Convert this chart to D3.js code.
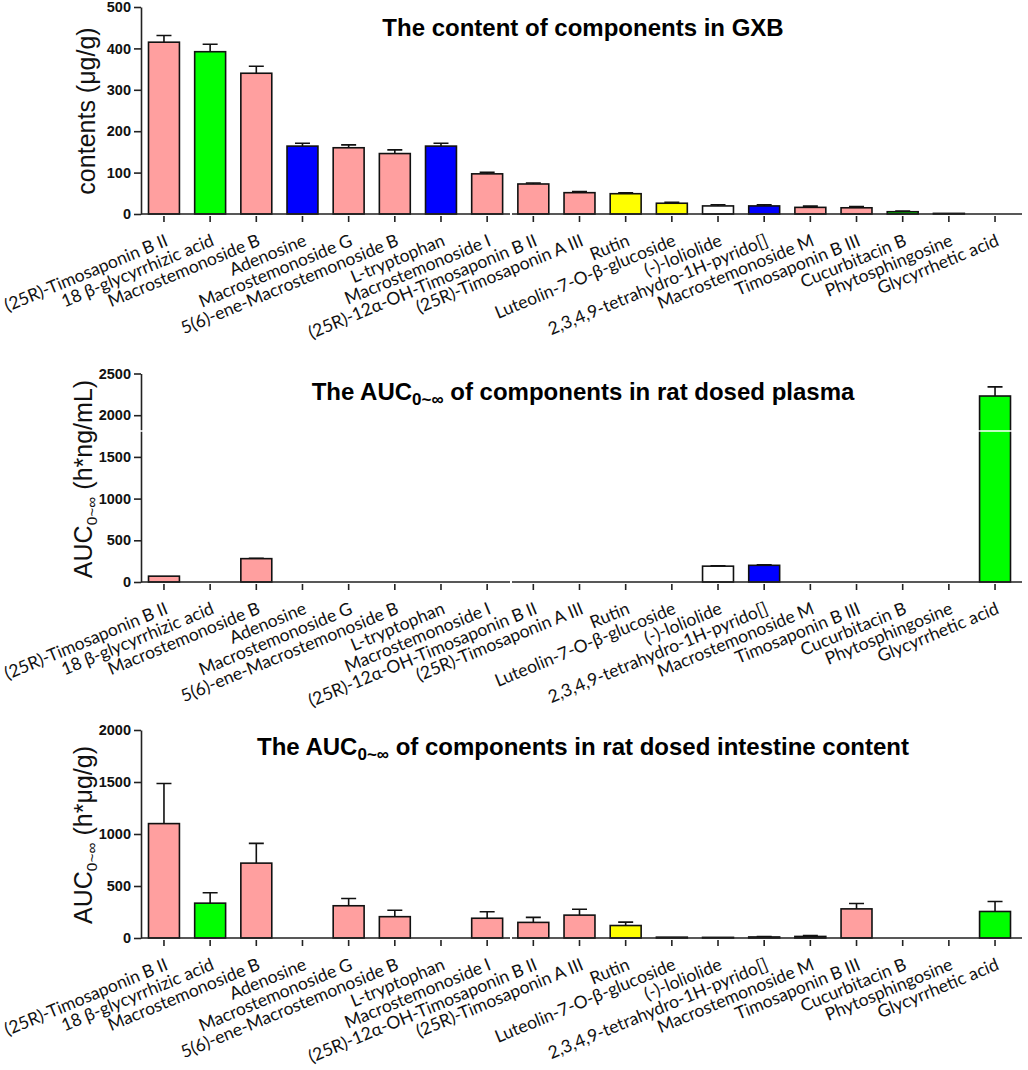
<!DOCTYPE html>
<html>
<head>
<meta charset="utf-8">
<script src="https://cdn.jsdelivr.net/npm/d3@7"></script>
<style>
  html, body { margin: 0; padding: 0; background: #fff; }
  svg { display: block; }
</style>
</head>
<body>
<svg id="chart" width="1028" height="1070"></svg>
<script>
// ---------------- DATA ----------------
const categories = [
  "(25R)-Timosaponin B II",
  "18 β-glycyrrhizic acid",
  "Macrostemonoside B",
  "Adenosine",
  "Macrostemonoside G",
  "5(6)-ene-Macrostemonoside B",
  "L-tryptophan",
  "Macrostemonoside I",
  "(25R)-12α-OH-Timosaponin B II",
  "(25R)-Timosaponin A III",
  "Rutin",
  "Luteolin-7-O-β-glucoside",
  "(-)-loliolide",
  "2,3,4,9-tetrahydro-1H-pyrido[]",
  "Macrostemonoside M",
  "Timosaponin B III",
  "Cucurbitacin B",
  "Phytosphingosine",
  "Glycyrrhetic acid"
];

// GXB content (µg/g)
const contentMean = [415, 392, 340, 164, 160, 146, 164, 97, 72.5, 51.5, 49, 26, 19.5, 19.5, 16, 15, 5.5, 1.5, 0];
const contentErr  = [16, 18, 17, 7, 7, 9, 7, 4, 2.5, 2.5, 2, 2, 3, 2.5, 3, 3, 1.5, 0, 0];

// AUC plasma (h*ng/mL)
const plasmaMean = [70, 0, 280, 0, 0, 0, 0, 0, 0, 0, 0, 0, 190, 200, 0, 0, 0, 0, 2230];
const plasmaErr  = [0, 0, 5, 0, 0, 0, 0, 0, 0, 0, 0, 0, 5, 5, 0, 0, 0, 0, 110];

// AUC intestine content (h*µg/g)
const intestineMean = [1100, 335, 720, 0, 310, 205, 0, 190, 150, 220, 120, 8, 6, 10, 15, 280, 0, 0, 255];
const intestineErr  = [385, 100, 190, 0, 70, 62, 0, 62, 48, 57, 33, 0, 0, 4, 8, 52, 0, 0, 96];

const contentTicks = [0, 100, 200, 300, 400, 500];
const plasmaTicks = [0, 500, 1000, 1500, 2000, 2500];
const intestineTicks = [0, 500, 1000, 1500, 2000];

// ---------------- STYLE ----------------
const PINK = "#ff9f9f", GREEN = "#00ff00", BLUE = "#0000ff", YELLOW = "#ffff00", WHITE = "#ffffff";
const barColors = [PINK, GREEN, PINK, BLUE, PINK, PINK, BLUE, PINK, PINK, PINK,
                   YELLOW, YELLOW, WHITE, BLUE, PINK, PINK, GREEN, PINK, GREEN];

const svg = d3.select("#chart");
const boldFont = "'Liberation Sans', Arial, sans-serif";
const labelFont = "Lato, 'Open Sans', sans-serif";

const x = d3.scaleBand()
  .domain(categories)
  .range([148.5, 1010.5])
  .paddingInner(0.33)
  .paddingOuter(0);

const axisLeft = 141, axisRight = 1022;

function panel(cfg) {
  const y = d3.scaleLinear().domain([0, cfg.max]).range([cfg.base, cfg.top]);
  const g = svg.append("g");

  // bars
  const idx = d3.range(categories.length).filter(i => cfg.mean[i] > 0);
  g.selectAll("rect.bar").data(idx).join("rect")
    .attr("class", "bar")
    .attr("x", i => x(categories[i]))
    .attr("width", x.bandwidth())
    .attr("y", i => y(cfg.mean[i]))
    .attr("height", i => y(0) - y(cfg.mean[i]))
    .attr("fill", i => barColors[i])
    .attr("stroke", "#111")
    .attr("stroke-width", 1.6);

  // error bars
  const eidx = idx.filter(i => cfg.err[i] > 0);
  const cap = 7.5;
  g.selectAll("path.err").data(eidx).join("path")
    .attr("class", "err")
    .attr("d", i => {
      const cx = x(categories[i]) + x.bandwidth() / 2;
      const y0 = y(cfg.mean[i]), y1 = y(cfg.mean[i] + cfg.err[i]);
      return `M${cx},${y0}V${y1}M${cx - cap},${y1}H${cx + cap}`;
    })
    .attr("fill", "none")
    .attr("stroke", "#111")
    .attr("stroke-width", 1.6);

  // y axis
  const ya = g.append("g")
    .attr("transform", `translate(${axisLeft},0)`)
    .call(d3.axisLeft(y).tickValues(cfg.ticks).tickFormat(d3.format("d"))
      .tickSize(7).tickSizeOuter(0).tickPadding(3));
  ya.select(".domain").attr("stroke", "#222").attr("stroke-width", 1.6);
  ya.selectAll(".tick line").attr("stroke", "#222").attr("stroke-width", 1.6);
  ya.selectAll(".tick text")
    .attr("font-family", boldFont).attr("font-weight", "bold")
    .attr("font-size", 14.5).attr("fill", "#111");

  // x axis (baseline in two segments, with tiny break)
  const xa = g.append("g")
    .attr("transform", `translate(0,${cfg.base})`)
    .call(d3.axisBottom(x).tickSize(0).tickSizeOuter(0).tickFormat(""));
  xa.select(".domain").remove();
  xa.selectAll(".tick line").remove();
  g.append("path")
    .attr("d", `M${axisLeft},${cfg.base}H510M512,${cfg.base}H${axisRight}`)
    .attr("stroke", "#222").attr("stroke-width", 1.6).attr("fill", "none");
  g.selectAll("line.xt").data(categories).join("line")
    .attr("class", "xt")
    .attr("x1", d => x(d) + x.bandwidth() / 2)
    .attr("x2", d => x(d) + x.bandwidth() / 2)
    .attr("y1", cfg.base + 2).attr("y2", cfg.base + 8)
    .attr("stroke", "#222").attr("stroke-width", 1.6);

  // x labels
  g.selectAll("text.xl").data(categories).join("text")
    .attr("class", "xl")
    .attr("transform", d => `translate(${x(d) + x.bandwidth() / 2 + 5},${cfg.base + 31}) rotate(-22.5)`)
    .attr("text-anchor", "end")
    .attr("font-family", labelFont)
    .attr("font-size", 17.5)
    .attr("fill", "#111")
    .text(d => d);

  // title
  const t = g.append("text")
    .attr("x", 583).attr("y", cfg.titleY)
    .attr("text-anchor", "middle")
    .attr("font-family", boldFont).attr("font-weight", "bold")
    .attr("font-size", 24).attr("fill", "#000");
  cfg.title.forEach(part => {
    const ts = t.append("tspan").text(part.text);
    if (part.sub) ts.attr("font-size", 17).attr("baseline-shift", "-30%");
  });

  // y label
  const yl = g.append("text")
    .attr("transform", `translate(${cfg.ylabX},${cfg.ylabY}) rotate(-90)`)
    .attr("text-anchor", "middle")
    .attr("font-family", boldFont)
    .attr("font-size", cfg.ylabSize).attr("fill", "#111");
  cfg.ylabel.forEach(part => {
    const ts = yl.append("tspan").text(part.text);
    if (part.sub) ts.attr("font-size", cfg.ylabSize * 0.62).attr("baseline-shift", "-30%");
  });
  return y;
}

panel({
  mean: contentMean, err: contentErr, ticks: contentTicks, max: 500,
  top: 7, base: 214, titleY: 36,
  title: [{ text: "The content of components in GXB" }],
  ylabel: [{ text: "contents (μg/g)" }], ylabX: 95, ylabY: 111, ylabSize: 25
});

const yPl = panel({
  mean: plasmaMean, err: plasmaErr, ticks: plasmaTicks, max: 2500,
  top: 373.5, base: 582, titleY: 400,
  title: [{ text: "The AUC" }, { text: "0~∞", sub: true }, { text: " of components in rat dosed plasma" }],
  ylabel: [{ text: "AUC" }, { text: "0~∞", sub: true }, { text: " (h*ng/mL)" }], ylabX: 92, ylabY: 479, ylabSize: 25
});

// thin white scan line through the plasma panel (as in the source image)
svg.append("line")
  .attr("x1", 136).attr("x2", 1022)
  .attr("y1", yPl(1810)).attr("y2", yPl(1810))
  .attr("stroke", "#fff").attr("stroke-width", 1.5);

panel({
  mean: intestineMean, err: intestineErr, ticks: intestineTicks, max: 2000,
  top: 730, base: 938, titleY: 755,
  title: [{ text: "The AUC" }, { text: "0~∞", sub: true }, { text: " of components in rat dosed intestine content" }],
  ylabel: [{ text: "AUC" }, { text: "0~∞", sub: true }, { text: " (h*μg/g)" }], ylabX: 92, ylabY: 835, ylabSize: 25
});
</script>
</body>
</html>
